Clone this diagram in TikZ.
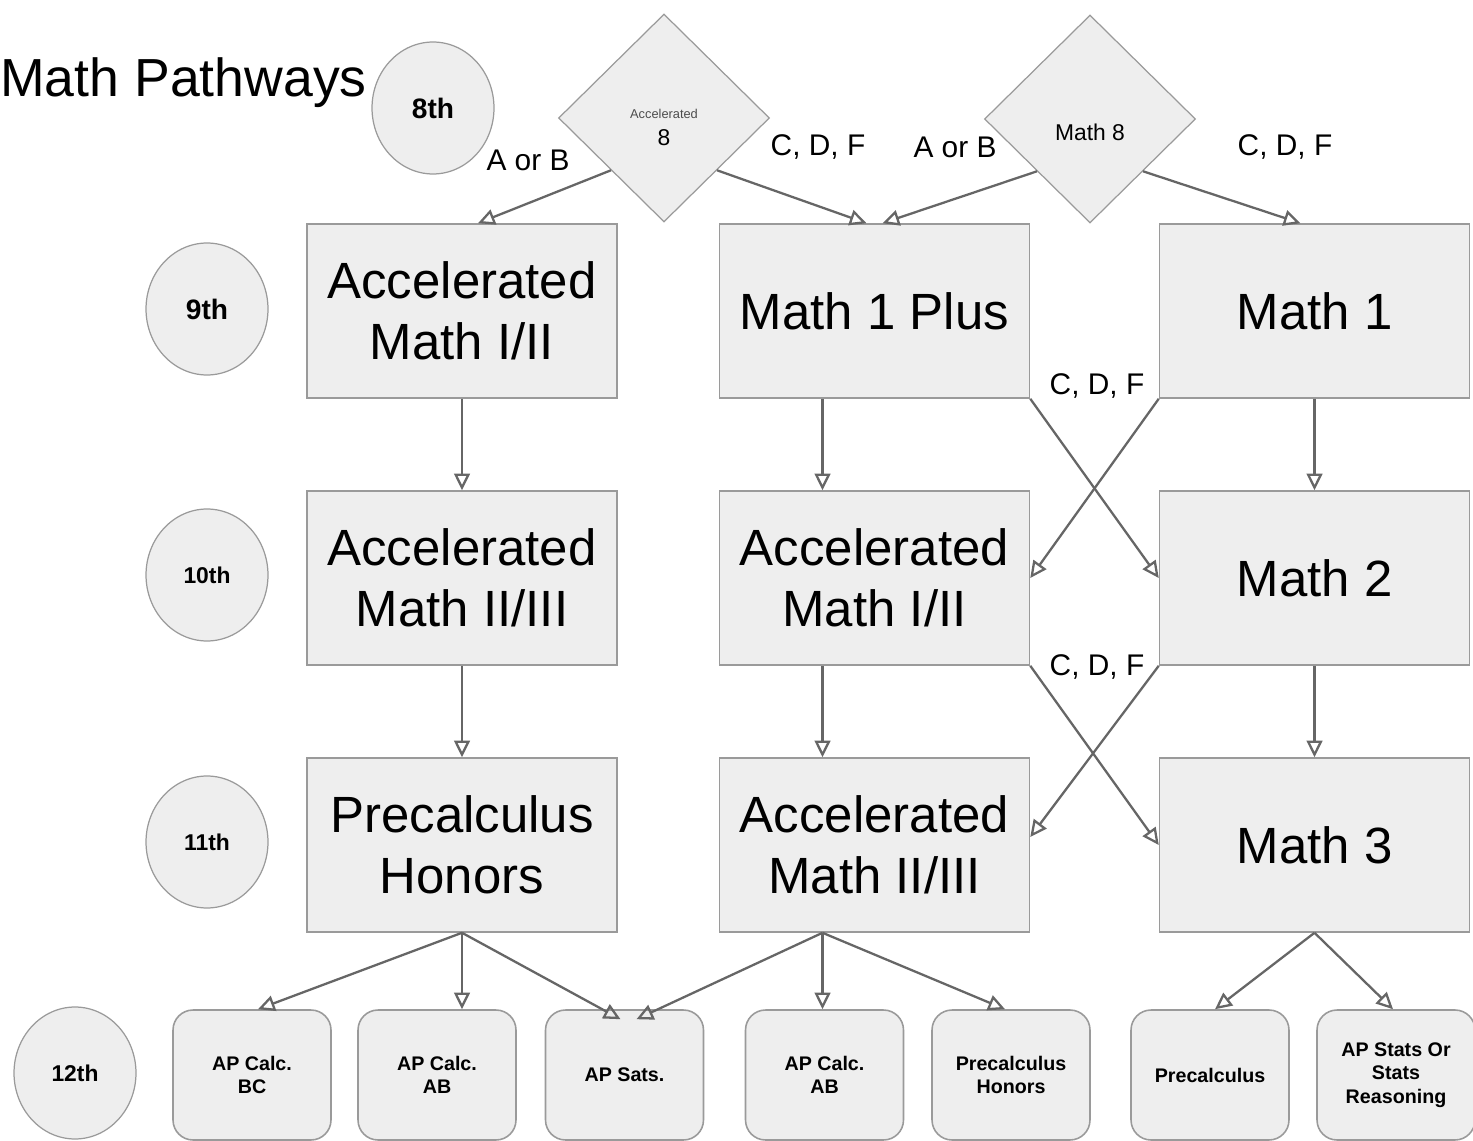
\documentclass[tikz,border=0pt]{standalone}
\usepackage{fontspec}
\setmainfont{Liberation Sans}
\usetikzlibrary{shapes.geometric, arrows.meta, calc}
\definecolor{boxfill}{HTML}{EEEEEE}
\definecolor{boxline}{HTML}{9A9A9A}
\definecolor{moveline}{HTML}{666666}

\begin{document}
\begin{tikzpicture}[x=0.02cm, y=-0.02cm, line join=miter,
	course/.style={draw=boxline, fill=boxfill, line width=0.9pt, minimum width=6.2cm, minimum height=3.48cm, align=center, font=\fontsize{29}{35}\selectfont},
	grade/.style={draw=boxline, fill=boxfill, ellipse, line width=0.7pt, minimum width=2.44cm, minimum height=2.64cm, inner sep=0pt, font=\bfseries\fontsize{13}{15}\selectfont},
	test/.style={draw=boxline, fill=boxfill, diamond, line width=0.7pt, minimum width=4.22cm, minimum height=4.16cm, inner sep=0pt, align=center},
	senior/.style={draw=boxline, fill=boxfill, rounded corners=0.4cm, line width=0.9pt, minimum width=3.16cm, minimum height=2.6cm, align=center, font=\bfseries\fontsize{11.2}{13.5}\selectfont},
	score/.style={font=\fontsize{17}{20}\selectfont},
	move/.style={draw=moveline, line width=1.3pt, -{Triangle[open, length=9.5pt, width=9pt]}}]
	\useasboundingbox (0,0) rectangle (1473,1141);

	% Title and grades
	\node[anchor=west, inner sep=0pt, font=\fontsize{30.5}{36}\selectfont] (title) at (0,83) {Math Pathways};
	\node[grade, font=\bfseries\fontsize{16}{18}\selectfont] (g8) at (433,108) {8th};
	\node[grade, font=\bfseries\fontsize{16}{18}\selectfont] (g9) at (207,309) {9th};
	\node[grade] (g10) at (207,575) {10th};
	\node[grade] (g11) at (207,842) {11th};
	\node[grade] (g12) at (75,1073) {12th};

	% 8th grade
	\node[test, label={[align=center, yshift=-0.19cm]center:{\textcolor{black!70}{\fontsize{7.3}{8}\selectfont Accelerated}\\[3pt]{\fontsize{13}{15}\selectfont 8}}}] (acc8) at (664,118) {};
	\node[test, label={[yshift=-0.26cm, font=\fontsize{13}{15}\selectfont]center:Math 8}] (m8) at (1090,119) {};

	% 9th grade
	\node[course] (a9) at (462,311) {Accelerated\\Math I/II};
	\node[course] (p9) at (874.5,311) {Math 1 Plus};
	\node[course] (m9) at (1314.5,311) {Math 1};

	% 10th grade
	\node[course] (a10) at (462,578) {Accelerated\\Math II/III};
	\node[course] (b10) at (874.5,578) {Accelerated\\Math I/II};
	\node[course] (m10) at (1314.5,578) {Math 2};

	% 11th grade
	\node[course] (a11) at (462,845) {Precalculus\\Honors};
	\node[course] (b11) at (874.5,845) {Accelerated\\Math II/III};
	\node[course] (m11) at (1314.5,845) {Math 3};

	% 12th grade
	\node[senior] (s1) at (252,1075) {AP Calc.\\BC};
	\node[senior] (s2) at (437,1075) {AP Calc.\\AB};
	\node[senior] (s3) at (624.5,1075) {AP Sats.};
	\node[senior] (s4) at (824.5,1075) {AP Calc.\\AB};
	\node[senior] (s5) at (1011,1075) {Precalculus\\Honors};
	\node[senior] (s6) at (1210,1075) {Precalculus};
	\node[senior] (s7) at (1396,1075) {AP Stats Or\\Stats\\Reasoning};

	% grades that decide the path
	\node[score] (ab1) at (528,160) {A or B};
	\node[score] (cdf1) at (818,147) {C, D, F};
	\node[score] (ab2) at (955,147) {A or B};
	\node[score] (cdf2) at (1285,147) {C, D, F};
	\node[score] (cdf3) at (1097,386) {C, D, F};
	\node[score] (cdf4) at (1097,667) {C, D, F};

	% 8th -> 9th
	\draw[move] (acc8.south west) -- ($(a9.north)+(16,0)$);
	\draw[move] (acc8.south east) -- ($(p9.north)+(-8,0)$);
	\draw[move] (m8.south west) -- ($(p9.north)+(8,0)$);
	\draw[move] (m8.south east) -- ($(m9.north)+(-14,0)$);

	% 9th -> 10th
	\draw[move] (a9) -- (a10);
	\draw[move] ($(p9.south)+(-52,0)$) -- ($(b10.north)+(-52,0)$);
	\draw[move] (m9) -- (m10);
	\draw[move] (p9.south east) -- (m10.west);
	\draw[move] (m9.south west) -- (b10.east);

	% 10th -> 11th
	\draw[move] (a10) -- (a11);
	\draw[move] ($(b10.south)+(-52,0)$) -- ($(b11.north)+(-52,0)$);
	\draw[move] (m10) -- (m11);
	\draw[move] (b10.south east) -- (m11.west);
	\draw[move] (m10.south west) -- ($(b11.east)+(0,-8)$);

	% 11th -> 12th
	\coordinate (b11out) at ($(b11.south)+(-52,0)$);
	\draw[move] (a11.south) -- ($(s1.north)+(6,0)$);
	\draw[move] (a11.south) -- (a11.south |- s2.north);
	\draw[move] (a11.south) -- ($(s3.north)+(-4,10)$);
	\draw[move] (b11out) -- ($(s3.north)+(12,10)$);
	\draw[move] (b11out) -- (b11out |- s4.north);
	\draw[move] (b11out) -- ($(s5.north)+(-6,0)$);
	\draw[move] (m11.south) -- ($(s6.north)+(5,0)$);
	\draw[move] (m11.south) -- ($(s7.north)+(-3,0)$);
\end{tikzpicture}
\end{document}
